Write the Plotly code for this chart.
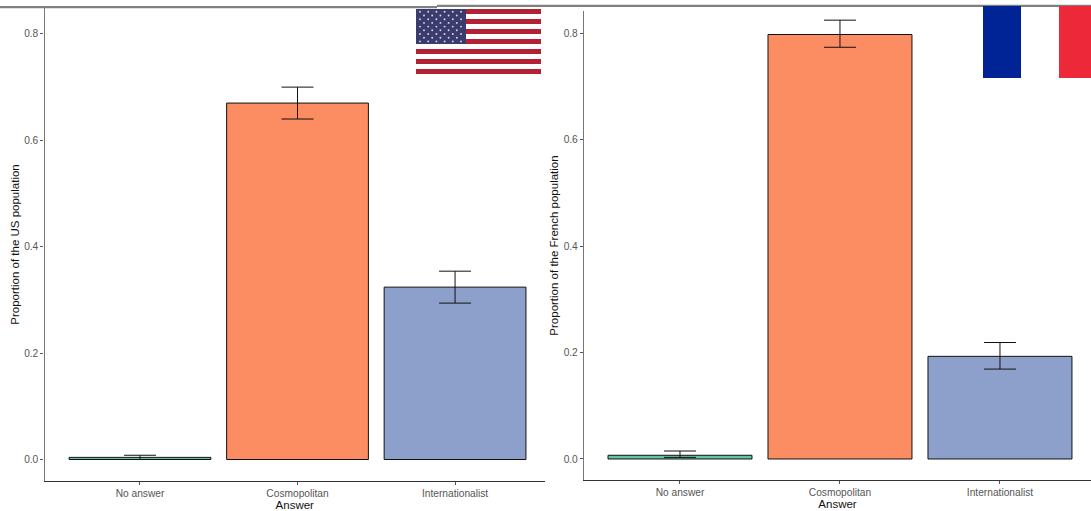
import base64
import plotly.graph_objects as go
from plotly.subplots import make_subplots

W, H = 1091, 511
categories = ["No answer", "Cosmopolitan", "Internationalist"]
colors = ["#66C2A5", "#FC8D62", "#8DA0CB"]

us_values = [0.004, 0.670, 0.324]
us_upper = [0.004, 0.030, 0.030]
us_lower = [0.004, 0.030, 0.030]

fr_values = [0.007, 0.798, 0.193]
fr_upper = [0.008, 0.027, 0.026]
fr_lower = [0.004, 0.024, 0.024]

y_ticks = [0.0, 0.2, 0.4, 0.6, 0.8]


def us_flag():
    parts = ['<svg xmlns="http://www.w3.org/2000/svg" width="125" height="65" viewBox="0 0 125 65">',
             '<rect width="125" height="65" fill="#ffffff"/>']
    for i in range(0, 13, 2):
        parts.append(f'<rect y="{i * 5}" width="125" height="5" fill="#B22234"/>')
    parts.append('<rect width="50" height="35" fill="#3C3B6E"/>')
    for row in range(9):
        cols = 6 if row % 2 == 0 else 5
        off = 4 if row % 2 == 0 else 8
        for c in range(cols):
            parts.append(f'<circle cx="{off + c * 8.2:.1f}" cy="{2.8 + row * 3.7:.1f}" r="0.95" fill="#d8d8e6"/>')
    parts.append('</svg>')
    return "data:image/svg+xml;base64," + base64.b64encode("".join(parts).encode()).decode()


fig = make_subplots(rows=1, cols=2)


def panel(col, values, upper, lower, width):
    fig.add_trace(go.Bar(
        x=categories, y=values, width=width,
        marker=dict(color=colors, line=dict(color="#111111", width=1)),
        error_y=dict(type="data", symmetric=False, array=upper, arrayminus=lower,
                     color="#111111", thickness=1, width=16),
        showlegend=False, hoverinfo="skip"), row=1, col=col)


panel(1, us_values, us_upper, us_lower, 0.9)
panel(2, fr_values, fr_upper, fr_lower, 0.9)

tick_font = dict(family="Liberation Sans, Arial, sans-serif", size=10.2, color="#555555")
title_font = dict(family="Liberation Sans, Arial, sans-serif", size=11.5, color="#111111")


def style_axes(col, xdom, ydom, xrange, yrange, ytitle, ystandoff):
    fig.update_xaxes(domain=xdom, range=xrange, type="category", categoryorder="array",
                     categoryarray=categories, showgrid=False, zeroline=False,
                     showline=True, linecolor="#333333", linewidth=1.3,
                     ticks="outside", ticklen=3, tickcolor="#555555", tickwidth=1,
                     tickfont=tick_font, title=dict(text="Answer", font=title_font, standoff=1),
                     row=1, col=col)
    fig.update_yaxes(domain=ydom, range=yrange, tickvals=y_ticks, ticktext=[f"{t:.1f}" for t in y_ticks],
                     showgrid=False, zeroline=False, showline=True, linecolor="#777777", linewidth=1.3,
                     ticks="outside", ticklen=3, tickcolor="#555555", tickwidth=1,
                     tickfont=tick_font, title=dict(text=ytitle, font=title_font, standoff=ystandoff),
                     row=1, col=col)


style_axes(1, [44.5 / W, 545 / W], [1 - 481 / H, 1 - 8 / H], [-0.606, 2.571], [-0.0404, 0.8487],
           "Proportion of the US population", 2)
style_axes(2, [584 / W, 1.0], [1 - 480 / H, 1 - 11 / H], [-0.6, 2.569], [-0.0395, 0.8422],
           "Proportion of the French population", 2)


def px_rect(x0, x1, y0, y1, color):
    return dict(type="rect", xref="paper", yref="paper", layer="above",
                x0=x0 / W, x1=x1 / W, y0=1 - y1 / H, y1=1 - y0 / H,
                fillcolor=color, line=dict(width=0))


shapes = [
    px_rect(0, 437, 6, 8.2, "#808080"),
    px_rect(437, W, 4.8, 7, "#808080"),
    px_rect(983, 1021, 6, 78, "#002395"),
    px_rect(1021, 1059, 7, 78, "#FFFFFF"),
    px_rect(1059, W, 6, 78, "#ED2939"),
]

fig.update_layout(
    width=W, height=H, margin=dict(l=0, r=0, t=0, b=0),
    paper_bgcolor="white", plot_bgcolor="white", bargap=0.1,
    shapes=shapes,
    images=[dict(source=us_flag(), xref="paper", yref="paper", x=416 / W, y=1 - 9 / H,
                 sizex=125 / W, sizey=65 / H, xanchor="left", yanchor="top",
                 sizing="stretch", layer="above")],
)

fig.write_html("out.html", config={"displayModeBar": False},
               post_script="document.body.style.margin='0';document.documentElement.style.overflow='hidden';")
